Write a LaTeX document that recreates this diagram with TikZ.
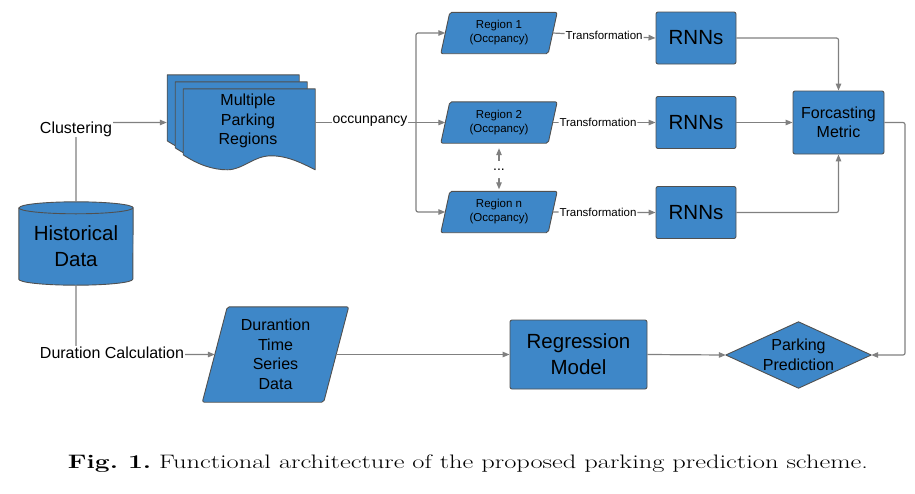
\documentclass[tikz,border=0pt]{standalone}
\usepackage{fontspec}
\newfontfamily\arialf{Liberation Sans}
\usetikzlibrary{arrows.meta,calc,backgrounds}
\definecolor{boxblue}{RGB}{62,135,200}
\definecolor{edgegray}{RGB}{80,80,80}
\definecolor{linegray}{RGB}{128,128,128}
\tikzset{
  shapefill/.style={fill=boxblue, draw=edgegray, line width=0.9pt, line join=round},
  box/.style={shapefill, rounded corners=2pt, inner sep=0pt, align=center},
  holder/.style={inner sep=0pt, align=center},
  conn/.style={draw=linegray, line width=1.2pt, rounded corners=2pt},
  arr/.style={conn, -{Triangle[length=7pt,width=5.5pt]}},
  darr/.style={conn, {Triangle[length=7pt,width=5.5pt]}-{Triangle[length=7pt,width=5.5pt]}},
  lbl/.style={fill=white, inner sep=1pt},
  f16/.style={font=\arialf\fontsize{16}{19.5}\selectfont},
  f14/.style={font=\arialf\fontsize{14}{17}\selectfont},
  f11/.style={font=\arialf\fontsize{11.5}{14}\selectfont},
  f20/.style={font=\arialf\fontsize{20.5}{26}\selectfont},
}
\begin{document}
\begin{tikzpicture}[x=1pt,y=-1pt]
\useasboundingbox (0,0) rectangle (915,493);

% ---- nodes ----
\node[holder, minimum width=114pt, minimum height=83pt] (hist) at (76,243.5) {};
\node[holder, f20] (histtxt) at ($(hist.center)+(0,3)$) {Historical\\Data};
\node[holder, minimum width=148pt, minimum height=95pt] (docs) at (241,122.5) {};
\node[holder, f16] (docstxt) at (248,121) {Multiple\\Parking\\Regions};

\node[holder, f11, minimum width=107pt, minimum height=41pt] (r1) at (499,33) {Region 1\\(Occpancy)};
\node[holder, f11, minimum width=107pt, minimum height=41pt] (r2) at (499,122.5) {Region 2\\(Occpancy)};
\node[holder, f11, minimum width=107pt, minimum height=41pt] (rn) at (499,212) {Region n\\(Occpancy)};

\node[box, f20, minimum width=80pt, minimum height=52pt] (rnn1) at (696,38) {RNNs};
\node[box, f20, minimum width=80pt, minimum height=52pt] (rnn2) at (696,122.5) {RNNs};
\node[box, f20, minimum width=80pt, minimum height=52pt] (rnn3) at (696,212.5) {RNNs};

\node[box, f16, minimum width=91pt, minimum height=63pt] (fm) at (838.5,122.5) {Forcasting\\Metric};

\node[holder, f16, minimum width=121pt, minimum height=95pt] (dts) at (275.5,354.5) {Durantion\\Time\\Series\\Data};
\node[box, f20, minimum width=137pt, minimum height=69pt] (reg) at (578.5,354.5) {Regression\\Model};
\node[holder, f16, minimum width=145pt, minimum height=66pt] (pp) at (798.5,355) {Parking\\Prediction};

% ---- drawn shapes behind the texts ----
\begin{pgfonlayer}{background}
  % cylinder
  \path[shapefill] ($(hist.north west)+(0,6)$) -- ($(hist.south west)+(0,-6)$)
     arc[start angle=180,end angle=360,x radius=57pt,y radius=6pt]
     -- ($(hist.north east)+(0,6)$)
     arc[start angle=0,end angle=180,x radius=57pt,y radius=6pt] -- cycle;
  \draw[draw=edgegray, line width=0.9pt] ($(hist.north west)+(0,6)$)
     arc[start angle=180,end angle=360,x radius=57pt,y radius=6pt];
  % stacked documents
  \foreach \k in {2,1,0}{
    \begin{scope}[shift={($(docs.north east)+(-132-8*\k,14-7*\k)$)}]
      \path[shapefill] (0,0) -- (132,0) -- (132,81)
        .. controls (120,75) and (105,67) .. (88,67)
        .. controls (70,67) and (60,81) .. (44,81)
        .. controls (30,81) and (15,76) .. (0,66) -- cycle;
    \end{scope}
  }
  % parallelograms
  \foreach \n in {r1,r2,rn}{
    \path[shapefill, rounded corners=2pt] ($(\n.north west)+(4.5,0)$) -- ($(\n.north east)+(4.5,0)$)
      -- ($(\n.south east)+(-4.5,0)$) -- ($(\n.south west)+(-4.5,0)$) -- cycle;
  }
  \path[shapefill, rounded corners=2pt] ($(dts.north west)+(12.5,0)$) -- ($(dts.north east)+(12.5,0)$)
      -- ($(dts.south east)+(-12.5,0)$) -- ($(dts.south west)+(-12.5,0)$) -- cycle;
  % diamond
  \path[shapefill] (pp.north) -- (pp.east) -- (pp.south) -- (pp.west) -- cycle;
\end{pgfonlayer}

% ---- connectors ----
\coordinate (cc) at (hist.north |- docs.west);
\draw[arr] (hist.north) -- (cc) -- (docs.west);
\node[lbl, f16] (clust) at (76,129) {Clustering};

\coordinate (dc) at (hist.south |- dts.west);
\draw[arr] (hist.south) -- (dc) -- (dts.west);
\node[lbl, f16] (durc) at (112,353) {Duration Calculation};

\coordinate (j) at (416,122.5);
\draw[conn] (docs.east) -- (j);
\draw[arr] (j) -- (r2.west);
\draw[arr] (j) |- (r1.west);
\draw[arr] (j) |- (rn.west);
\node[lbl, f14] (occ) at (370,121) {occunpancy};

\draw[arr] (r1.east) -- node[lbl, f11] (t1) {Transformation} (rnn1.west);
\draw[arr] (r2.east) -- node[lbl, f11, pos=0.44] (t2) {Transformation} (rnn2.west);
\draw[arr] (rn.east) -- node[lbl, f11, pos=0.44] (t3) {Transformation} (rnn3.west);

\draw[darr, shorten <=5pt, shorten >=2pt] (r2.south) -- node[lbl, f14, minimum height=17pt, pos=0.55] (dots) {...} (rn.north);

\draw[arr] (rnn1.east) -| (fm.north);
\draw[arr] (rnn2.east) -- (fm.west);
\draw[arr] (rnn3.east) -| (fm.south);

\coordinate (k) at (905,122.5);
\draw[arr] (fm.east) -- (k) |- (pp.east);

\draw[arr] (dts.east) -- (reg.west);
\draw[arr] (reg.east) -- (pp.west);

% ---- caption ----
\node[font=\fontsize{19.5}{24}\selectfont, inner sep=0pt] (cap) at (468,463.5) {\resizebox{800pt}{\height}{\frenchspacing\textbf{Fig.~1.} Functional architecture of the proposed parking prediction scheme.}};
\end{tikzpicture}
\end{document}
